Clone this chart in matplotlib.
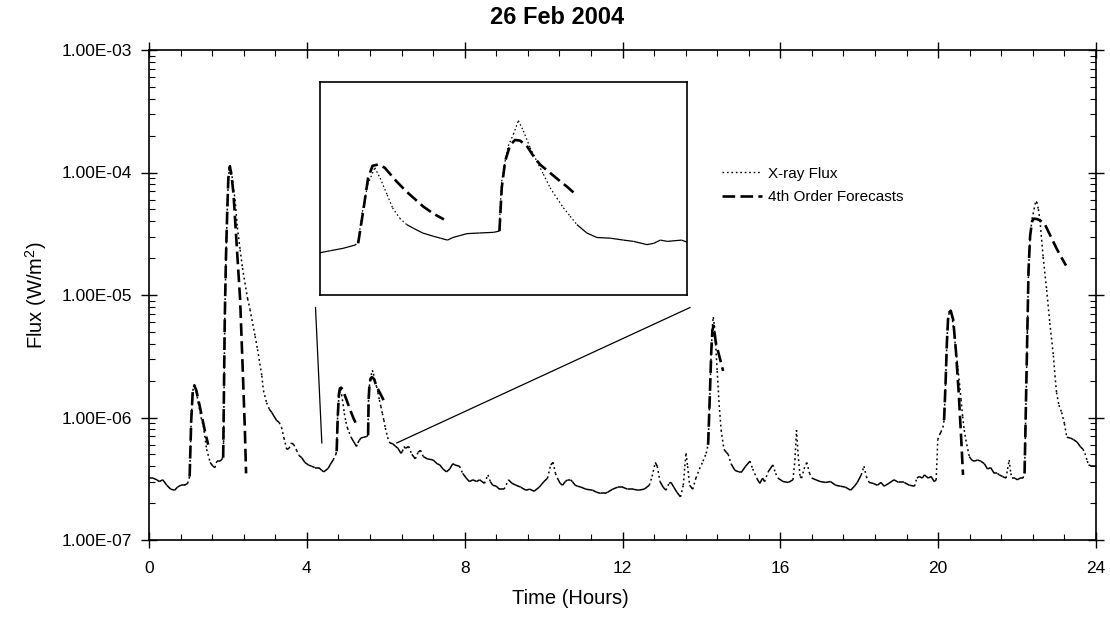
import numpy as np
import matplotlib
matplotlib.use("Agg")
import matplotlib.pyplot as plt
from matplotlib.collections import LineCollection
from matplotlib.lines import Line2D
from matplotlib.ticker import FixedLocator, MultipleLocator, LogLocator, FuncFormatter, NullFormatter, NullLocator

plt.rcParams['font.family'] = ['Liberation Sans', 'DejaVu Sans']
plt.rcParams['mathtext.fontset'] = 'custom'
plt.rcParams['mathtext.rm'] = 'Liberation Sans'
plt.rcParams['mathtext.it'] = 'Liberation Sans:italic'

TITLE = "26 Feb 2004"
X_LABEL = "Time (Hours)"
Y_LABEL = "Flux (W/m$^2$)"
SERIES_NAMES = ["X-ray Flux", "4th Order Forecasts"]
X_TICKS = [0, 4, 8, 12, 16, 20, 24]
Y_TICKS = [1e-7, 1e-6, 1e-5, 1e-4, 1e-3]

# X-ray flux: time (hours) and flux in units of 1e-7 W/m^2
flux_time = [
    0.00, 0.10, 0.20, 0.26, 0.35, 0.45, 0.55, 0.65, 0.72, 0.81, 0.90, 0.98,
    1.03, 1.07, 1.11, 1.15, 1.20, 1.25, 1.32, 1.38, 1.46, 1.55, 1.62, 1.67,
    1.72, 1.80, 1.86, 1.89, 1.92, 1.95, 1.98, 2.01, 2.05, 2.09, 2.13, 2.18,
    2.24, 2.31, 2.37, 2.43, 2.50, 2.56, 2.63, 2.69, 2.75, 2.81, 2.86, 2.90,
    2.98, 3.05, 3.11, 3.23, 3.30, 3.36, 3.42, 3.49, 3.55, 3.61, 3.67, 3.74,
    3.80, 3.87, 3.95, 4.04, 4.12, 4.20, 4.30, 4.38, 4.43, 4.54, 4.60, 4.67,
    4.74, 4.756, 4.78, 4.81, 4.85, 4.88, 4.92, 4.95, 4.99, 5.03, 5.07, 5.12,
    5.18, 5.22, 5.26, 5.29, 5.33, 5.37, 5.44, 5.52, 5.553, 5.556, 5.566, 5.585,
    5.603, 5.632, 5.66, 5.688, 5.726, 5.764, 5.801, 5.839, 5.877, 5.914, 5.952, 5.99,
    6.046, 6.103, 6.178, 6.253, 6.31, 6.385, 6.423, 6.461, 6.50, 6.58, 6.66, 6.75,
    6.82, 6.88, 6.95, 7.05, 7.20, 7.30, 7.37, 7.45, 7.54, 7.62, 7.70, 7.75,
    7.87, 7.95, 8.04, 8.12, 8.21, 8.30, 8.38, 8.50, 8.59, 8.65, 8.71, 8.80,
    8.88, 9.00, 9.11, 9.20, 9.30, 9.42, 9.55, 9.65, 9.76, 9.89, 10.01, 10.10,
    10.18, 10.24, 10.30, 10.35, 10.42, 10.48, 10.55, 10.61, 10.68, 10.73, 10.80, 10.86,
    10.95, 11.07, 11.24, 11.35, 11.45, 11.55, 11.62, 11.75, 11.88, 12.00, 12.13, 12.26,
    12.40, 12.55, 12.68, 12.75, 12.83, 12.88, 12.95, 13.03, 13.10, 13.18, 13.23, 13.30,
    13.38, 13.47, 13.54, 13.58, 13.61, 13.65, 13.70, 13.78, 13.86, 13.95, 14.04, 14.12,
    14.17, 14.21, 14.25, 14.28, 14.30, 14.33, 14.36, 14.40, 14.45, 14.50, 14.57, 14.63,
    14.68, 14.75, 14.85, 14.95, 15.02, 15.12, 15.23, 15.30, 15.40, 15.48, 15.55, 15.60,
    15.69, 15.81, 15.88, 15.94, 16.07, 16.20, 16.32, 16.37, 16.41, 16.45, 16.50, 16.54,
    16.60, 16.67, 16.74, 16.80, 16.90, 17.01, 17.15, 17.27, 17.40, 17.52, 17.65, 17.78,
    17.88, 17.95, 18.05, 18.12, 18.18, 18.25, 18.35, 18.46, 18.55, 18.63, 18.75, 18.88,
    19.00, 19.14, 19.27, 19.40, 19.46, 19.52, 19.60, 19.65, 19.75, 19.82, 19.90, 19.95,
    19.99, 20.03, 20.07, 20.12, 20.15, 20.19, 20.22, 20.25, 20.28, 20.31, 20.35, 20.40,
    20.45, 20.50, 20.54, 20.58, 20.62, 20.66, 20.70, 20.75, 20.79, 20.85, 20.91, 21.00,
    21.08, 21.17, 21.25, 21.33, 21.42, 21.50, 21.55, 21.63, 21.72, 21.76, 21.80, 21.84,
    21.88, 21.95, 22.00, 22.08, 22.15, 22.19, 22.23, 22.26, 22.29, 22.33, 22.38, 22.43,
    22.47, 22.50, 22.54, 22.58, 22.66, 22.75, 22.83, 22.92, 22.96, 23.00, 23.06, 23.13,
    23.20, 23.26, 23.35, 23.43, 23.52, 23.60, 23.67, 23.72, 23.78, 23.81, 23.90, 24.00,
]
flux_e7 = [
    3.2, 3.2, 3.1, 3.0, 3.1, 2.8, 2.6, 2.55, 2.7, 2.8, 2.8, 2.9,
    3.3, 9.5, 16.6, 18.6, 16.2, 13.2, 10.0, 8.5, 5.5, 4.3, 4.0, 3.9,
    4.4, 4.4, 4.6, 6.3, 63, 200, 447, 891, 1150, 1020, 794, 603,
    355, 234, 166, 126, 93, 76, 58, 46, 36, 27.5, 21.9, 16.6,
    13.2, 11.7, 11.0, 9.5, 9.1, 8.3, 6.8, 5.5, 5.6, 6.2, 6.0, 5.4,
    4.9, 4.7, 4.3, 4.1, 4.0, 3.9, 3.9, 3.7, 3.6, 3.84, 4.16, 4.52,
    5.04, 5.56, 10.2, 14.4, 17.0, 15.4, 12.8, 10.8, 9.2, 8.2, 7.6, 6.9,
    6.4, 6.1, 5.8, 6.2, 6.5, 6.8, 6.9, 7.0, 7.2, 10.2, 14.9, 18.0,
    20.4, 22.2, 24.3, 22.7, 20.1, 18.0, 16.0, 13.9, 12.3, 10.8, 9.5, 8.2,
    6.9, 6.2, 6.1, 5.8, 5.6, 5.1, 5.3, 5.8, 5.6, 5.8, 5.0, 4.6,
    5.2, 5.4, 4.8, 4.6, 4.5, 4.2, 4.1, 3.8, 3.6, 3.8, 4.2, 4.1,
    4.0, 3.5, 3.2, 3.0, 3.1, 3.0, 3.1, 2.9, 3.4, 3.0, 2.8, 2.75,
    2.6, 2.6, 3.1, 2.9, 2.8, 2.7, 2.55, 2.6, 2.5, 2.7, 3.0, 3.2,
    4.1, 4.3, 3.5, 3.2, 2.9, 2.8, 3.0, 3.1, 3.1, 3.0, 2.8, 2.75,
    2.7, 2.6, 2.55, 2.45, 2.4, 2.4, 2.45, 2.6, 2.7, 2.7, 2.6, 2.6,
    2.55, 2.6, 2.8, 3.3, 4.3, 4.0, 3.0, 2.7, 2.55, 2.9, 2.95, 2.7,
    2.45, 2.25, 2.8, 4.0, 5.1, 4.0, 2.8, 2.6, 3.2, 3.8, 4.4, 5.1,
    6.0, 14, 35, 56, 66, 56, 40, 24, 12.6, 7.9, 5.5, 5.2,
    5.0, 4.2, 3.7, 3.6, 3.6, 4.0, 4.4, 3.8, 3.2, 2.9, 3.2, 3.0,
    3.6, 4.1, 3.5, 3.2, 3.0, 2.95, 3.1, 4.5, 7.9, 5.0, 3.3, 3.2,
    3.8, 4.3, 3.5, 3.2, 3.1, 3.0, 2.95, 3.0, 2.8, 2.75, 2.7, 2.55,
    2.75, 2.95, 3.4, 4.0, 3.3, 2.95, 2.9, 2.8, 2.95, 2.75, 2.9, 3.1,
    2.95, 2.95, 2.8, 2.75, 3.2, 3.3, 3.2, 3.4, 3.2, 3.3, 3.0, 3.1,
    6.6, 7.2, 7.6, 8.3, 9.5, 20, 40, 63, 72, 76, 68, 50,
    35, 25, 19, 14, 10.2, 7.9, 6.6, 5.5, 4.8, 4.5, 4.4, 4.5,
    4.4, 4.2, 3.8, 3.9, 3.5, 3.5, 3.4, 3.3, 3.2, 3.8, 4.5, 3.5,
    3.2, 3.2, 3.1, 3.2, 3.2, 3.5, 16, 50, 158, 302, 417, 501,
    575, 575, 501, 407, 204, 110, 59, 32, 22, 16, 12.6, 11.0,
    8.9, 6.9, 6.8, 6.6, 6.3, 5.8, 5.5, 5.1, 4.4, 4.1, 4.0, 4.0,
]

# 4th order forecasts, one list per forecast run (time in hours, flux in 1e-7 W/m^2)
fc_time = [
    [1.03, 1.07, 1.11, 1.15, 1.20, 1.28, 1.36, 1.43, 1.50],
    [1.88, 1.92, 1.95, 1.98, 2.01, 2.05, 2.10, 2.14, 2.22, 2.31, 2.37, 2.43, 2.46],
    [4.756, 4.784, 4.812, 4.837, 4.869, 4.906, 4.972, 5.029, 5.123, 5.18, 5.24],
    [5.553, 5.566, 5.585, 5.613, 5.641, 5.669, 5.707, 5.745, 5.782, 5.839, 5.896, 5.933, 5.99],
    [14.17, 14.21, 14.25, 14.28, 14.31, 14.37, 14.45, 14.55],
    [20.15, 20.19, 20.22, 20.25, 20.28, 20.32, 20.38, 20.45, 20.52, 20.58, 20.63],
    [22.19, 22.23, 22.26, 22.29, 22.33, 22.38, 22.43, 22.50, 22.58, 22.70, 22.85, 23.00, 23.10, 23.24],
]
fc_e7 = [
    [3.3, 9.5, 16.6, 18.2, 16.6, 12.6, 9.5, 7.4, 6.0],
    [4.7, 63, 200, 447, 891, 1120, 891, 676, 263, 91, 27.5, 7.9, 3.5],
    [5.3, 10.2, 15.4, 17.3, 17.5, 17.0, 14.9, 13.3, 11.0, 9.9, 9.0],
    [7.2, 13.9, 18.0, 20.5, 21.3, 21.2, 20.4, 18.8, 17.5, 16.2, 14.9, 14.1, 12.7],
    [6.0, 14, 35, 52, 56, 40, 32, 24],
    [9.5, 20, 40, 63, 72, 74, 63, 35, 16, 7.1, 3.4],
    [3.5, 16, 50, 158, 302, 400, 420, 417, 407, 380, 302, 240, 209, 174],
]

# inset (zoom on the 4.5-6.6 h flares, linear flux scale)
INSET_XLIM = (4.54, 6.61)
INSET_YLIM = (-0.27e-6, 3.03e-6)
# connector lines from the inset to the zoomed region (time, flux)
connector_t = [[4.22, 4.38], [6.28, 13.71]]
connector_f = [[7.9e-6, 6.2e-7], [6.2e-7, 7.9e-6]]

ft = np.array(flux_time)
ff = np.array(flux_e7) * 1e-7

W, H = 1110, 619
fig = plt.figure(figsize=(W / 100, H / 100), dpi=100)
ax = fig.add_axes([149 / W, (H - 540) / H, 947 / W, 490 / H])
ax.set_xlim(0, 24)
ax.set_yscale('log')
ax.set_ylim(1e-7, 1e-3)

DOT = (0, (1.2, 2.0))
FC_DASH = (4.8, 2.0)


def draw_flux(a, t, f, lw, ratio):
    pts = a.transData.transform(np.column_stack([t, f]))
    d = np.diff(pts, axis=0)
    steep = np.abs(d[:, 1]) > ratio * np.abs(d[:, 0])
    segs = [[(t[i], f[i]), (t[i + 1], f[i + 1])] for i in range(len(t) - 1)]
    styles = [DOT if s else 'solid' for s in steep]
    lc = LineCollection(segs, linestyles=styles, colors='black', linewidths=lw,
                        capstyle='butt', joinstyle='round')
    a.add_collection(lc)


draw_flux(ax, ft, ff, 1.1, 2.0)
for t, v in zip(fc_time, fc_e7):
    ax.plot(t, np.array(v) * 1e-7, color='black', lw=1.9, dashes=FC_DASH, solid_capstyle='butt')

for ct, cf in zip(connector_t, connector_f):
    ax.plot(ct, cf, color='black', lw=0.9)

# axes styling
ax.xaxis.set_major_locator(FixedLocator(X_TICKS))
ax.xaxis.set_minor_locator(MultipleLocator(0.8))
ax.yaxis.set_major_locator(FixedLocator(Y_TICKS))
ax.yaxis.set_minor_locator(LogLocator(base=10, subs=np.arange(2, 10) * 1.0, numticks=30))
ax.yaxis.set_minor_formatter(NullFormatter())
ax.yaxis.set_major_formatter(FuncFormatter(lambda v, p: f"{v:.2E}"))
ax.tick_params(which='major', direction='inout', length=12, width=1.0,
               top=True, right=True, labelsize=12.5, pad=6)
ax.tick_params(axis='x', which='major', pad=9)
ax.tick_params(which='minor', direction='in', length=4, width=0.8, top=True, right=True)
for s in ax.spines.values():
    s.set_linewidth(1.2)

ax.set_xlabel(X_LABEL, fontsize=14.5)
ax.xaxis.label.set_va('center')
ax.xaxis.set_label_coords((570 - 149) / 947, -(598 - 540) / 490)
ax.set_ylabel(Y_LABEL, fontsize=14.5, labelpad=9)
fig.text(557 / W, 1 - 18 / H, TITLE, ha='center', va='center', fontsize=17, fontweight='bold')

handles = [Line2D([], [], color='black', lw=1.0, linestyle=DOT),
           Line2D([], [], color='black', lw=1.9, dashes=FC_DASH)]
ax.legend(handles, SERIES_NAMES, loc='upper left', bbox_to_anchor=(0.605, 0.762),
          frameon=False, fontsize=11, handlelength=2.6, handletextpad=0.4,
          labelspacing=0.62, borderpad=0, borderaxespad=0)

# inset
x0 = 4.33 / 24
x1 = 13.63 / 24
y0 = (np.log10(1e-5) + 7) / 4
y1 = (-3.26 + 7) / 4
iax = ax.inset_axes([x0, y0, x1 - x0, y1 - y0])
iax.set_xlim(*INSET_XLIM)
iax.set_ylim(*INSET_YLIM)
iax.xaxis.set_major_locator(NullLocator())
iax.yaxis.set_major_locator(NullLocator())
for s in iax.spines.values():
    s.set_linewidth(1.2)
draw_flux(iax, ft, ff, 0.9, 0.9)
for t, v in zip(fc_time, fc_e7):
    iax.plot(t, np.array(v) * 1e-7, color='black', lw=1.9, dashes=FC_DASH, solid_capstyle='butt')

fig.savefig("out.png", dpi=100)
